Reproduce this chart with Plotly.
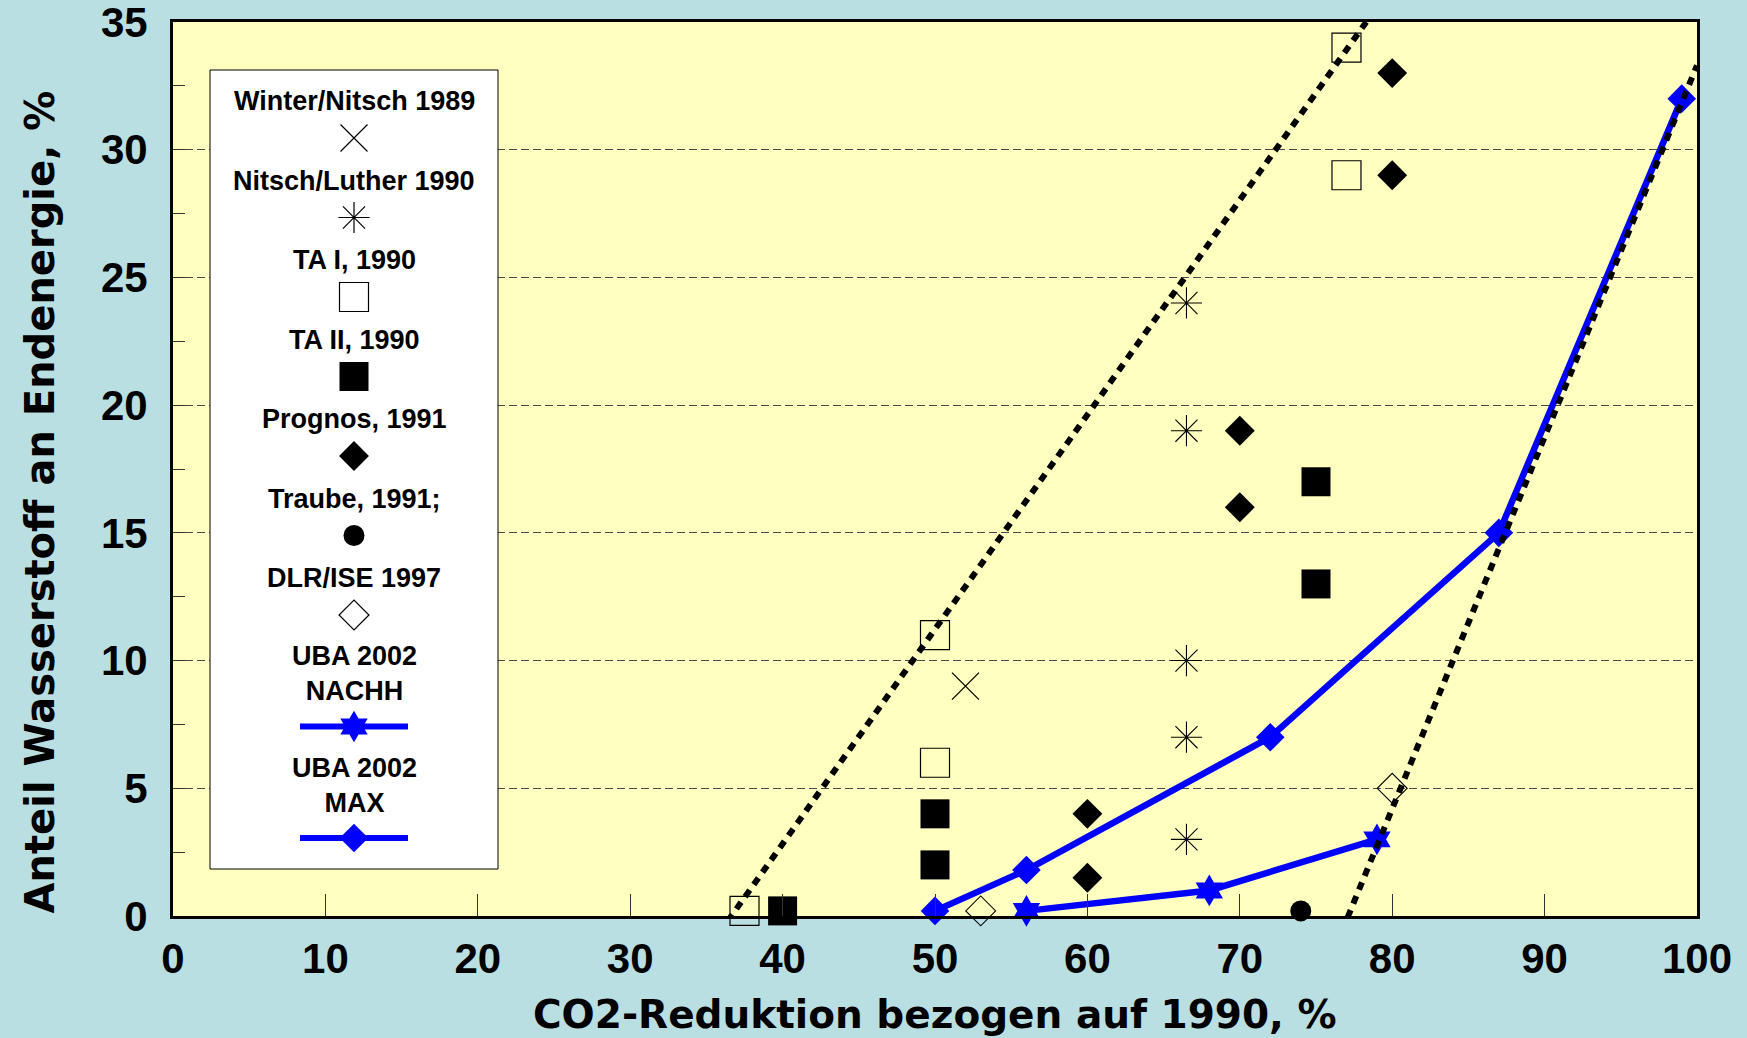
import plotly.graph_objects as go

# ---------------- data ----------------
winter_x = [52]
winter_y = [9]
nitsch_x = [66.5, 66.5, 66.5, 66.5, 66.5]
nitsch_y = [24, 19, 10, 7, 3]
ta1_x = [37.5, 50, 50, 77, 77]
ta1_y = [0.2, 11, 6, 34, 29]
ta2_x = [40, 50, 50, 75, 75]
ta2_y = [0.2, 4, 2, 17, 13]
prognos_x = [60, 60, 70, 70, 80, 80]
prognos_y = [4, 1.5, 19, 16, 33, 29]
traube_x = [74]
traube_y = [0.2]
dlr_x = [53, 80]
dlr_y = [0.2, 5]
uba_nachh_x = [56, 68, 79]
uba_nachh_y = [0.2, 1, 3]
uba_max_x = [50, 56, 72, 87, 99]
uba_max_y = [0.2, 1.8, 7, 15, 32]
bound_left_x = [36.4, 78.3]
bound_left_y = [-0.2, 35]
bound_right_x = [76.7, 100]
bound_right_y = [-0.6, 33.3]

x_ticks = [0, 10, 20, 30, 40, 50, 60, 70, 80, 90, 100]
y_ticks = [0, 5, 10, 15, 20, 25, 30, 35]

x_title = "CO2-Reduktion bezogen auf 1990, %"
y_title = "Anteil Wasserstoff an Endenergie, %"

legend_entries = [
    ("Winter/Nitsch 1989", "x-thin-open", 27, "black", None),
    ("Nitsch/Luther 1990", "asterisk-open", 26, "black", None),
    ("TA I, 1990", "square-open", 29, "black", None),
    ("TA II, 1990", "square", 29, "black", None),
    ("Prognos, 1991", "diamond", 23, "black", None),
    ("Traube, 1991;", "circle", 21, "black", None),
    ("DLR/ISE 1997", "diamond-open", 23, "black", None),
    ("UBA 2002<br>NACHH", "hexagram", 24, "#0000FF", "line"),
    ("UBA 2002<br>MAX", "diamond", 22, "#0000FF", "line"),
]

# ---------------- styling ----------------
W, H = 1747, 1038
PL, PR, PT, PB = 173, 1697, 22, 916   # plot area in pixels
XMAX, YMAX = 100, 35
BLUE = "#0000FF"
TICKFONT = dict(family="Liberation Sans, Arial, sans-serif", size=42, color="black", weight="bold")
TITLEFONT = dict(family="DejaVu Sans, sans-serif", size=39, color="black", weight="bold")
LEGFONT = dict(family="Liberation Sans, Arial, sans-serif", size=27, color="black", weight="bold")


def px2x(px):   # pixel -> data x (legend layout helper)
    return (px - PL) / (PR - PL) * XMAX


def py2y(py):   # pixel -> data y
    return (PB - py) / (PB - PT) * YMAX


def px2p(px):   # pixel -> paper x
    return (px - PL) / (PR - PL)


def py2p(py):   # pixel -> paper y
    return (PB - py) / (PB - PT)


fig = go.Figure()


def pts(x, y, symbol, size, color="black", lw=1.2):
    fig.add_trace(go.Scatter(
        x=x, y=y, mode="markers", cliponaxis=False, showlegend=False,
        marker=dict(symbol=symbol, size=size, color=color,
                    line=dict(color=color, width=lw)),
    ))


pts(winter_x, winter_y, "x-thin-open", 27, lw=1.3)
pts(nitsch_x, nitsch_y, "asterisk-open", 26, lw=1.1)
pts(ta1_x, ta1_y, "square-open", 29, lw=1.2)
pts(ta2_x, ta2_y, "square", 29, lw=0)
pts(prognos_x, prognos_y, "diamond", 23, lw=0)
pts(traube_x, traube_y, "circle", 21, lw=0)
pts(dlr_x, dlr_y, "diamond-open", 23, lw=1.1)

for xs, ys, sym, sz in [(uba_nachh_x, uba_nachh_y, "hexagram", 24),
                        (uba_max_x, uba_max_y, "diamond", 22)]:
    fig.add_trace(go.Scatter(
        x=xs, y=ys, mode="lines+markers", cliponaxis=False, showlegend=False,
        line=dict(color=BLUE, width=6.5),
        marker=dict(symbol=sym, size=sz, color=BLUE, line=dict(width=0)),
    ))

for xs, ys in [(bound_left_x, bound_left_y), (bound_right_x, bound_right_y)]:
    fig.add_trace(go.Scatter(
        x=xs, y=ys, mode="lines", cliponaxis=False, showlegend=False,
        line=dict(color="black", width=6, dash="8px,7px"),
    ))

# ---------------- custom legend (text above symbol) ----------------
LEG_X0, LEG_X1, LEG_Y0, LEG_Y1 = 210, 498, 70, 869
LEG_CX = (LEG_X0 + LEG_X1) / 2
fig.add_shape(type="rect", xref="x", yref="y",
              x0=px2x(LEG_X0), x1=px2x(LEG_X1), y0=py2y(LEG_Y0), y1=py2y(LEG_Y1),
              fillcolor="white", line=dict(color="black", width=1), layer="between")

y_text = 101
line_h = 32
for label, sym, size, color, kind in legend_entries:
    nlines = label.count("<br>") + 1
    text_c = y_text + (nlines - 1) * line_h / 2
    fig.add_annotation(xref="paper", yref="paper", x=px2p(LEG_CX), y=py2p(text_c), text=label,
                       showarrow=False, font=LEGFONT, align="center",
                       xanchor="center", yanchor="middle")
    y_sym = y_text + (nlines - 1) * line_h + 37
    if kind == "line":
        fig.add_trace(go.Scatter(x=[px2x(LEG_CX - 54), px2x(LEG_CX + 54)],
                                 y=[py2y(y_sym), py2y(y_sym)], mode="lines",
                                 showlegend=False, hoverinfo="skip",
                                 line=dict(color=color, width=6)))
    open_sym = sym.endswith("-open")
    fig.add_trace(go.Scatter(x=[px2x(LEG_CX)], y=[py2y(y_sym)], mode="markers",
                             showlegend=False, hoverinfo="skip",
                             marker=dict(symbol=sym, size=size, color=color,
                                         line=dict(color=color, width=1.2 if open_sym else 0))))
    y_text = y_sym + 42.5

# axis titles
fig.add_annotation(xref="paper", yref="paper", x=px2p((538 + 1331) / 2), y=py2p(1014),
                   text=x_title, showarrow=False, font=TITLEFONT,
                   xanchor="center", yanchor="middle")
fig.add_annotation(xref="paper", yref="paper", x=px2p(39), y=py2p((89 + 916) / 2),
                   text=y_title, showarrow=False, font=dict(TITLEFONT, size=40),
                   textangle=-90, xanchor="center", yanchor="middle")

fig.update_layout(
    width=W, height=H,
    margin=dict(l=PL, r=W - PR, t=PT, b=H - PB, pad=0, autoexpand=False),
    paper_bgcolor="#B9DFE3",
    plot_bgcolor="#FFFFC0",
    showlegend=False,
    xaxis=dict(range=[0, XMAX], tickvals=x_ticks, ticks="inside", ticklen=22, tickwidth=1,
               tickcolor="#333333", showgrid=False, zeroline=False, showline=True, linewidth=3,
               linecolor="black", mirror=True, tickfont=TICKFONT, ticklabelstandoff=4,
               ticklabeloverflow="allow", layer="above traces", fixedrange=True,
               automargin=False),
    yaxis=dict(range=[0, YMAX], tickvals=y_ticks, ticks="inside", ticklen=12, tickwidth=1,
               tickcolor="#333333", showgrid=True, gridcolor="#4a4a4a", gridwidth=1,
               griddash="8px,4px", zeroline=False, showline=True, linewidth=3,
               linecolor="black", mirror=True, tickfont=TICKFONT, ticklabelstandoff=14,
               ticklabeloverflow="allow",
               minor=dict(dtick=2.5, ticks="inside", ticklen=12, tickwidth=1,
                          tickcolor="#333333", showgrid=False),
               layer="above traces", fixedrange=True, automargin=False),
)

fig.write_html("out.html", config={"displayModeBar": False},
               post_script="document.body.style.margin='0';document.body.style.background='#B9DFE3';")
